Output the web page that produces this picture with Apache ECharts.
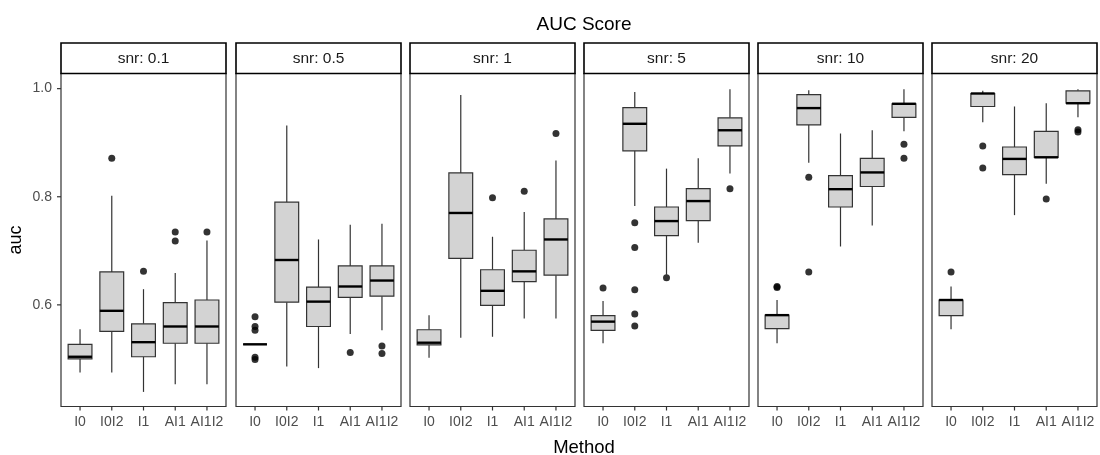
<!DOCTYPE html>
<html>
<head>
<meta charset="utf-8">
<script src="https://cdn.jsdelivr.net/npm/echarts@6/dist/echarts.min.js"></script>
<style>
html,body{margin:0;padding:0;background:#fff;}
#chart{width:1100px;height:455px;}
</style>
</head>
<body>
<div id="chart"></div>
<script>
// ---------- data ----------
const methods = ['I0', 'I0I2', 'I1', 'AI1', 'AI1I2'];
const snrLabels = ['snr: 0.1', 'snr: 0.5', 'snr: 1', 'snr: 5', 'snr: 10', 'snr: 20'];
const yTicks = [0.6, 0.8, 1.0];
const xTicks = [0, 1, 2, 3, 4];

// box statistics per method: [min, Q1, median, Q3, max]
const boxSnr01 = [
  [0.475, 0.500, 0.504, 0.527, 0.555],
  [0.475, 0.551, 0.589, 0.661, 0.802],
  [0.439, 0.504, 0.531, 0.565, 0.629],
  [0.453, 0.529, 0.560, 0.604, 0.659],
  [0.453, 0.529, 0.560, 0.609, 0.719]
];
const boxSnr05 = [
  [0.527, 0.527, 0.527, 0.527, 0.527],
  [0.486, 0.605, 0.683, 0.790, 0.932],
  [0.483, 0.560, 0.606, 0.633, 0.721],
  [0.546, 0.614, 0.634, 0.672, 0.748],
  [0.553, 0.616, 0.645, 0.672, 0.750]
];
const boxSnr1 = [
  [0.502, 0.526, 0.530, 0.554, 0.581],
  [0.539, 0.686, 0.770, 0.844, 0.988],
  [0.541, 0.599, 0.626, 0.665, 0.726],
  [0.575, 0.643, 0.662, 0.701, 0.772],
  [0.575, 0.655, 0.721, 0.759, 0.867]
];
const boxSnr5 = [
  [0.529, 0.553, 0.569, 0.580, 0.607],
  [0.783, 0.885, 0.935, 0.965, 0.994],
  [0.656, 0.728, 0.755, 0.781, 0.852],
  [0.715, 0.756, 0.792, 0.815, 0.871],
  [0.843, 0.894, 0.923, 0.946, 0.999]
];
const boxSnr10 = [
  [0.529, 0.556, 0.581, 0.581, 0.609],
  [0.863, 0.933, 0.964, 0.989, 0.997],
  [0.708, 0.781, 0.814, 0.839, 0.917],
  [0.747, 0.819, 0.845, 0.871, 0.923],
  [0.921, 0.947, 0.972, 0.972, 0.999]
];
const boxSnr20 = [
  [0.555, 0.580, 0.609, 0.609, 0.634],
  [0.938, 0.967, 0.991, 0.991, 0.996],
  [0.766, 0.841, 0.870, 0.892, 0.967],
  [0.824, 0.873, 0.873, 0.921, 0.973],
  [0.947, 0.973, 0.973, 0.996, 0.999]
];

// outliers: [method index, auc]
const outSnr01 = [[1, 0.871], [2, 0.662], [3, 0.735], [3, 0.718], [4, 0.735]];
const outSnr05 = [[0, 0.578], [0, 0.560], [0, 0.553], [0, 0.503], [0, 0.499], [3, 0.512], [4, 0.524], [4, 0.510]];
const outSnr1 = [[2, 0.798], [3, 0.810], [4, 0.917]];
const outSnr5 = [[0, 0.631], [1, 0.752], [1, 0.706], [1, 0.628], [1, 0.583], [1, 0.561], [2, 0.650], [4, 0.815]];
const outSnr10 = [[0, 0.632], [0, 0.634], [1, 0.836], [1, 0.661], [4, 0.897], [4, 0.871]];
const outSnr20 = [[0, 0.661], [1, 0.894], [1, 0.853], [3, 0.796], [4, 0.924], [4, 0.920]];

const boxSets = [boxSnr01, boxSnr05, boxSnr1, boxSnr5, boxSnr10, boxSnr20];
const outSets = [outSnr01, outSnr05, outSnr1, outSnr5, outSnr10, outSnr20];

// ---------- layout ----------
const FONT = 'Liberation Sans, Arial, sans-serif';
const panelLefts = [61, 236, 410, 584, 758, 932];
const panelWidth = 165;
const panelTop = 73.5;
const panelHeight = 333;
const stripTop = 43;
const yMin = 0.412, yMax = 1.028;
const xMin = -0.6, xMax = 4.6;
const TICK_LEN = 4;

function renderBox(params, api) {
  const x = api.value(0);
  const v = [1, 2, 3, 4, 5].map(i => api.value(i));
  const cx = api.coord([x, v[2]])[0];
  const half = api.size([0.75, 0])[0] / 2;
  const py = val => api.coord([x, val])[1];
  const yLo = py(v[0]), yQ1 = py(v[1]), yMed = py(v[2]), yQ3 = py(v[3]), yHi = py(v[4]);
  const wl = { stroke: '#333333', lineWidth: 1.2 };
  return {
    type: 'group',
    children: [
      { type: 'line', shape: { x1: cx, y1: yHi, x2: cx, y2: yQ3 }, style: wl },
      { type: 'line', shape: { x1: cx, y1: yQ1, x2: cx, y2: yLo }, style: wl },
      { type: 'rect', shape: { x: cx - half, y: yQ3, width: 2 * half, height: yQ1 - yQ3 },
        style: { fill: '#d3d3d3', stroke: '#333333', lineWidth: 1.2 } },
      { type: 'line', shape: { x1: cx - half, y1: yMed, x2: cx + half, y2: yMed },
        style: { stroke: '#000000', lineWidth: 2.4 } }
    ]
  };
}

// axis tick marks, positioned by the axes' own scales (outside the panel)
function renderXTick(params, api) {
  const p = api.coord([api.value(0), api.value(1)]);
  return { type: 'line', shape: { x1: p[0], y1: p[1], x2: p[0], y2: p[1] + TICK_LEN },
    style: { stroke: '#333333', lineWidth: 1.2 } };
}
function renderYTick(params, api) {
  const p = api.coord([api.value(0), api.value(1)]);
  return { type: 'line', shape: { x1: p[0] - TICK_LEN, y1: p[1], x2: p[0], y2: p[1] },
    style: { stroke: '#333333', lineWidth: 1.2 } };
}

const grids = [], xAxes = [], yAxes = [], series = [], graphics = [];
for (let i = 0; i < 6; i++) {
  grids.push({
    left: panelLefts[i], top: panelTop, width: panelWidth, height: panelHeight,
    show: true, borderColor: '#333333', borderWidth: 1.2
  });
  xAxes.push({
    gridIndex: i, type: 'value', min: xMin, max: xMax,
    axisLine: { show: false, onZero: false },
    splitLine: { show: false },
    axisTick: { show: false },
    axisLabel: {
      show: true, customValues: xTicks, margin: 9,
      formatter: v => methods[Math.round(v)], color: '#4d4d4d', fontSize: 14, fontFamily: FONT
    }
  });
  const ya = {
    gridIndex: i, type: 'value', min: yMin, max: yMax,
    axisLine: { show: false, onZero: false },
    splitLine: { show: false },
    axisTick: { show: false },
    axisLabel: {
      show: i === 0, customValues: yTicks, margin: 9,
      formatter: v => Number(v).toFixed(1), color: '#4d4d4d', fontSize: 14, fontFamily: FONT
    }
  };
  if (i === 0) {
    ya.name = 'auc';
    ya.nameLocation = 'middle';
    ya.nameGap = 36;
    ya.nameRotate = 90;
    ya.nameTextStyle = { color: '#000000', fontSize: 18, fontFamily: FONT };
  }
  yAxes.push(ya);

  series.push({
    type: 'custom', xAxisIndex: i, yAxisIndex: i,
    renderItem: renderBox,
    encode: { x: 0, y: [1, 2, 3, 4, 5] },
    data: boxSets[i].map((s, k) => [k].concat(s)),
    z: 2, silent: true
  });
  series.push({
    type: 'scatter', xAxisIndex: i, yAxisIndex: i,
    data: outSets[i], symbol: 'circle', symbolSize: 7,
    itemStyle: { color: '#000000' }, z: 3, silent: true
  });
  series.push({
    type: 'custom', xAxisIndex: i, yAxisIndex: i, clip: false,
    renderItem: renderXTick,
    encode: { x: 0, y: 1 },
    data: xTicks.map(t => [t, yMin]),
    z: 4, silent: true
  });
  if (i === 0) {
    series.push({
      type: 'custom', xAxisIndex: i, yAxisIndex: i, clip: false,
      renderItem: renderYTick,
      encode: { x: 0, y: 1 },
      data: yTicks.map(t => [xMin, t]),
      z: 4, silent: true
    });
  }

  graphics.push({
    type: 'rect', z: 10,
    shape: { x: panelLefts[i], y: stripTop, width: panelWidth, height: panelTop - stripTop },
    style: { fill: '#ffffff', stroke: '#000000', lineWidth: 1.6 }
  });
  graphics.push({
    type: 'text', z: 11,
    x: panelLefts[i] + panelWidth / 2, y: (stripTop + panelTop) / 2,
    style: {
      text: snrLabels[i], fill: '#1a1a1a', fontSize: 15.5, fontFamily: FONT,
      textAlign: 'center', textVerticalAlign: 'middle', align: 'center', verticalAlign: 'middle'
    }
  });
}

const option = {
  animation: false,
  backgroundColor: '#ffffff',
  title: [
    { text: 'AUC Score', left: 579, top: 10, textAlign: 'center',
      textStyle: { color: '#000000', fontSize: 19, fontWeight: 'normal', fontFamily: FONT } },
    { text: 'Method', left: 579, top: 433, textAlign: 'center',
      textStyle: { color: '#000000', fontSize: 18.5, fontWeight: 'normal', fontFamily: FONT } }
  ],
  grid: grids,
  xAxis: xAxes,
  yAxis: yAxes,
  series: series,
  graphic: graphics
};

const chart = echarts.init(document.getElementById('chart'), null, { renderer: 'canvas' });
chart.setOption(option);
</script>
</body>
</html>
